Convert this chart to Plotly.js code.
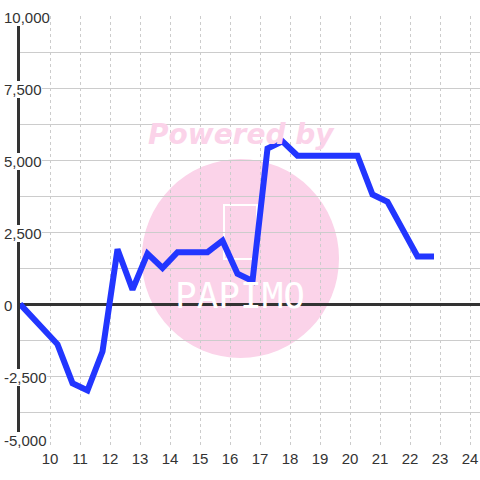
<!DOCTYPE html>
<html>
<head>
<meta charset="utf-8">
<script src="https://cdn.plot.ly/plotly-3.0.1.min.js"></script>
<style>
  html, body { margin: 0; padding: 0; background: #ffffff; }
  #chart { width: 480px; height: 480px; }
</style>
</head>
<body>
<div id="chart"></div>
<script>
// Time of day (hours) and running value
const xTimes = [9, 10.25, 10.75, 11.25, 11.75, 12.25, 12.75, 13.25, 13.75, 14.25, 14.75, 15.25, 15.75, 16.25, 16.75, 17.25, 17.75, 18.25, 18.75, 19.25, 19.75, 20.25, 20.75, 21.25, 21.75, 22.25, 22.8];
const values = [0, -1400, -2750, -3000, -1650, 1900, 500, 1750, 1250, 1800, 1800, 1800, 2200, 1050, 800, 5400, 5650, 5150, 5150, 5150, 5150, 5150, 3800, 3550, 2600, 1650, 1650];

// Tick labels
const xTickVals = [10, 11, 12, 13, 14, 15, 16, 17, 18, 19, 20, 21, 22, 23, 24];
const xTickText = ["10", "11", "12", "13", "14", "15", "16", "17", "18", "19", "20", "21", "22", "23", "24"];
const yTickVals = [10000, 7500, 5000, 2500, 0, -2500, -5000];
const yTickText = ["10,000", "7,500", "5,000", "2,500", "0", "-2,500", "-5,000"];

// Watermark text
const watermarkTop = "Powered by";
const watermarkLogo = "PAPIMO";

const axisFont = { family: "Liberation Sans, Arial, sans-serif", size: 15, color: "#333333" };

const yMin = -5000;
const yLabelAnnotations = yTickVals.map((v, i) => ({
  xref: "paper", x: 0, xanchor: "left", xshift: -16,
  yref: "y", y: v, yanchor: v === yMin ? "bottom" : "middle",
  yshift: v === yMin ? -1 : -1,
  text: yTickText[i], showarrow: false,
  bgcolor: "#ffffff", borderpad: 0, borderwidth: 0,
  font: axisFont
}));

const trace = {
  type: "scatter", mode: "lines",
  x: xTimes, y: values,
  line: { color: "#2236ff", width: 6 },
  hoverinfo: "skip"
};

const layout = {
  width: 480, height: 480,
  margin: { l: 20, r: 0, t: 16, b: 32, pad: 0 },
  paper_bgcolor: "#ffffff",
  plot_bgcolor: "#ffffff",
  showlegend: false,
  xaxis: {
    range: [9, 24.3333],
    tickmode: "array", tickvals: xTickVals, ticktext: xTickText,
    showgrid: true, gridcolor: "#cccccc", gridwidth: 1, griddash: "dot",
    zeroline: false, showline: false, ticks: "",
    tickfont: axisFont, fixedrange: true
  },
  yaxis: {
    range: [yMin, 10000],
    tick0: 0, dtick: 1250,
    showgrid: true, gridcolor: "#cccccc", gridwidth: 1,
    zeroline: true, zerolinecolor: "#333333", zerolinewidth: 3,
    showline: true, linecolor: "#333333", linewidth: 3,
    showticklabels: false, ticks: "", fixedrange: true
  },
  shapes: [
    { type: "circle", layer: "below", xref: "paper", yref: "paper",
      x0: 0.2646, x1: 0.6935, y0: 0.2083, y1: 0.669,
      fillcolor: "#fbd3e9", line: { width: 0 } },
    { type: "rect", layer: "below", xref: "paper", yref: "paper",
      x0: 0.4435, x1: 0.5152, y0: 0.4375, y1: 0.5625,
      fillcolor: "rgba(0,0,0,0)", line: { color: "#ffffff", width: 2 } }
  ],
  annotations: [
    { xref: "paper", yref: "paper", x: 0.4815, y: 0.726, xanchor: "center", yanchor: "middle",
      text: "<i><b>" + watermarkTop + "</b></i>", showarrow: false,
      font: { family: "DejaVu Sans", size: 28, color: "#fbd3e9" } },
    { xref: "paper", yref: "paper", x: 0.4783, y: 0.352, xanchor: "center", yanchor: "middle",
      text: watermarkLogo, showarrow: false,
      font: { family: "DejaVu Sans Mono", size: 36, color: "#ffffff" } }
  ].concat(yLabelAnnotations)
};

Plotly.newPlot("chart", [trace], layout, { staticPlot: true, displayModeBar: false });
</script>
</body>
</html>
